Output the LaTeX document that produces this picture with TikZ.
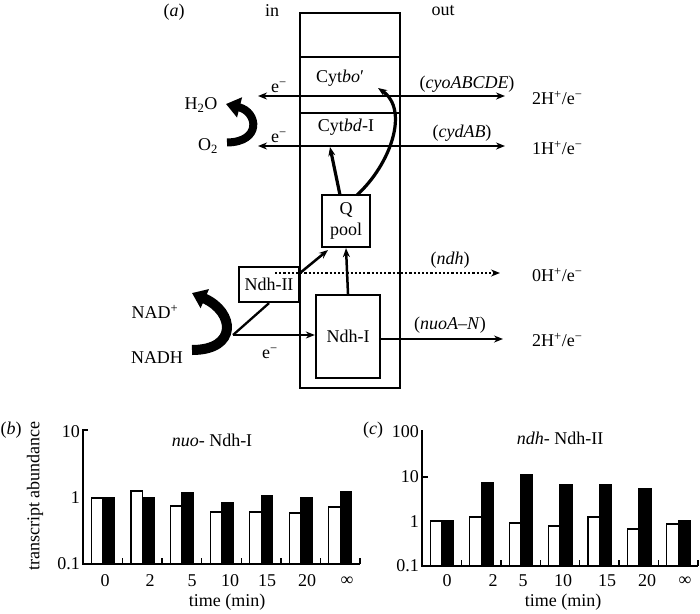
\documentclass[tikz,border=0pt]{standalone}
\usepackage{fontspec}
\setmainfont{Liberation Serif}
\usetikzlibrary{arrows.meta}
\begin{document}
\begin{tikzpicture}[x=1pt,y=-1pt,
  every node/.style={font=\fontsize{18}{23}\selectfont, inner sep=0pt},
  boxnode/.style={draw, line width=2.3pt, align=center},
  memline/.style={line width=1.8pt},
  tipa/.style={-{Stealth[length=9pt,width=7pt]}},
  dtip/.style={{Stealth[length=9pt,width=7pt]}-{Stealth[length=9pt,width=7pt]}},
  bigcurve/.style={-{Triangle[length=14pt,width=20pt]}},
  axisline/.style={line width=1.5pt},
  barw/.style={line width=1.2pt, fill=white},
  barb/.style={line width=1.2pt, fill=black}]
\useasboundingbox (0,0) rectangle (700,613);

% ---------------- panel (a) ----------------
\node (lab-a) at (174,12) {(\textit{a})};
\node (in) at (272,11) {in};
\node (out) at (443,11) {out};

% membrane
\draw[memline] (300,13) rectangle (400,388);
\draw[memline] (300,57) -- (400,57);
\draw[memline] (300,113) -- (400,113);
\node (cytbo) at (340,78) {Cyt\textit{bo}′};
\node (cytbd) at (346,127) {Cyt\textit{bd}-I};

% boxes
\node[boxnode, minimum width=48pt, minimum height=52pt] (q) at (346,221) {Q\\[-2pt]pool};
\node[boxnode, minimum width=60pt, minimum height=35pt] (ndh2) at (269,284.5) {Ndh-II};
\node[boxnode, minimum width=64pt, minimum height=83pt] (ndh1) at (348,336.5) {Ndh-I};

% coordinates
\coordinate (cyoL) at (258,96);
\coordinate (cyoR) at (505,96);
\coordinate (cydL) at (258,146);
\coordinate (cydR) at (505,146);
\coordinate (ndhS) at (275,273);
\coordinate (ndhE) at (500,273);
\coordinate (nuoE) at (503,339);
\coordinate (n2out) at (300,273);
\coordinate (qin) at (328,250);
\coordinate (br) at (233,335);
\coordinate (qa) at (340,195);
\coordinate (qb) at (357,195);
\coordinate (bdtip) at (330,147);
\coordinate (botip) at (378,88);

% horizontal electron / proton arrows
\draw[dtip, line width=2.8pt] (cyoL) -- (cyoR);
\draw[dtip, line width=2pt] (cydL) -- (cydR);
\draw[tipa, line width=2.2pt, dotted] (ndhS) -- (ndhE);
\draw[tipa, line width=2.2pt] (ndh1.east |- nuoE) -- (nuoE);

\node (e1) at (279,87) {e\textsuperscript{−}};
\node (e2) at (279,137) {e\textsuperscript{−}};
\node (cyo) at (467,84) {(\textit{cyoABCDE})};
\node (cyd) at (462,133) {(\textit{cydAB})};
\node (ndhlab) at (450,260) {(\textit{ndh})};
\node (nuolab) at (450,325) {(\textit{nuoA–N})};
\node[anchor=west] (h2) at (532,98) {2H\textsuperscript{+}/e\textsuperscript{−}};
\node[anchor=west] (h1) at (532,148) {1H\textsuperscript{+}/e\textsuperscript{−}};
\node[anchor=west] (h0) at (532,275) {0H\textsuperscript{+}/e\textsuperscript{−}};
\node[anchor=west] (h2b) at (532,340) {2H\textsuperscript{+}/e\textsuperscript{−}};

% Q pool arrows
\draw[tipa, line width=3.2pt] (qa) -- (bdtip);
\draw[tipa, line width=3.2pt] (qb) .. controls (390,165) and (410,110) .. (botip);
\draw[tipa, line width=2.5pt] (ndh1.north) -- (q.south);
\draw[tipa, line width=2.5pt] (n2out) -- (qin);

% NADH branches
\draw[line width=2.3pt] (br) -- (ndh2.south);
\draw[tipa, line width=2.3pt] (br) -- (ndh1.west |- br);
\node (e3) at (270,353) {e\textsuperscript{−}};

% thick curved arrows
\node (h2o) at (201,105) {H\textsubscript{2}O};
\node (o2) at (208,146) {O\textsubscript{2}};
\draw[bigcurve, line width=8pt] (227,142.5) .. controls (262,142) and (258,112) .. (226,104);
\node (nadp) at (155,312) {NAD\textsuperscript{+}};
\node (nadh) at (157,358) {NADH};
\draw[bigcurve, line width=10pt] (192,350) .. controls (238,350) and (235,312) .. (192,293);

% ---------------- panel (b) ----------------
\node (lab-b) at (11,430) {(\textit{b})};
\node[rotate=90] (ylab) at (35,496) {transcript abundance};
\node (tb) at (212,440) {\textit{nuo}- Ndh-I};
\foreach \c/\w/\b in {102.8/498/498, 142.4/491/498, 182/506/493, 221.6/512/503,
                      261.1/512/496, 300.7/513/498, 340.3/507/492} {
  \draw[barw] (\c-11.5,564) rectangle (\c,\w);
  \draw[barb] (\c,564) rectangle (\c+11.5,\b);
}
\draw[axisline] (88,430) -- (83,430) -- (83,564) -- (360,564);
\foreach \t in {122.6,162.1,201.7,241.3,280.9,320.4,360} \draw[axisline] (\t,564) -- (\t,558);
\node[anchor=east] (b10) at (80,432) {10};
\node[anchor=east] (b1) at (80,498) {1};
\node[anchor=east] (b01) at (80,564) {0.1};
\foreach \x/\l in {105/0, 150/2, 192/5, 230/10, 267/15, 307/20, 347/∞}
  \node at (\x,581) {\l};
\node (tmb) at (227,602) {time (min)};

% ---------------- panel (c) ----------------
\node (lab-c) at (373,430) {(\textit{c})};
\node (tc) at (560,438) {\textit{ndh}- Ndh-II};
\foreach \c/\w/\b in {441.7/521/521, 481.1/517/483, 520.6/523/475, 560/526/485,
                      599.4/517/485, 638.9/529/489, 678.3/524/521} {
  \draw[barw] (\c-11.5,566) rectangle (\c,\w);
  \draw[barb] (\c,566) rectangle (\c+12,\b);
}
\draw[axisline] (422,430) -- (422,566) -- (698,566);
\draw[axisline] (422,477) -- (428,477);
\foreach \t in {461.4,500.9,540.3,579.7,619.1,658.6,698} \draw[axisline] (\t,566) -- (\t,560);
\node[anchor=east] (c100) at (419,432) {100};
\node[anchor=east] (c10) at (419,477) {10};
\node[anchor=east] (c1) at (419,522) {1};
\node[anchor=east] (c01) at (419,566) {0.1};
\foreach \x/\l in {447/0, 493/2, 523/5, 563/10, 607/15, 647/20, 685/∞}
  \node at (\x,581) {\l};
\node (tmc) at (563,602) {time (min)};
\end{tikzpicture}
\end{document}
